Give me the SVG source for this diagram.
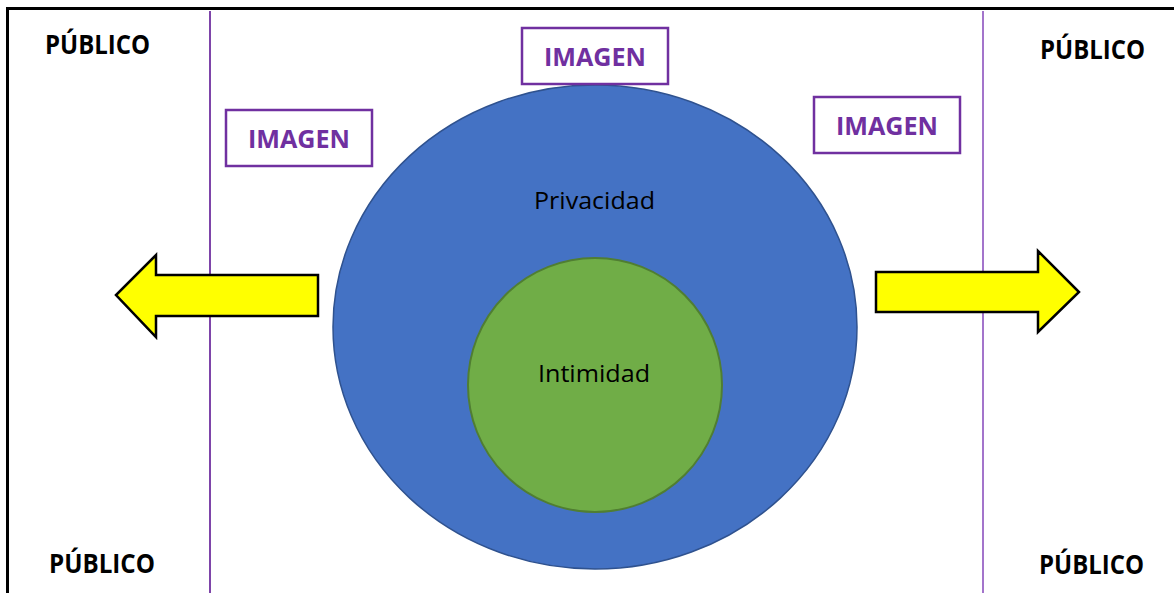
<svg xmlns="http://www.w3.org/2000/svg" width="1174" height="593" viewBox="0 0 1174 593">
  <style>
    .pub { font-family: "Open Sans", "Liberation Sans", sans-serif; font-weight: bold; font-size: 26px; fill: #000; }
    .img-box { fill: #fff; stroke: #7030A0; stroke-width: 2.5; }
    .img-txt { font-family: "Open Sans", "Liberation Sans", sans-serif; font-weight: bold; font-size: 25px; fill: #7030A0; }
    .lbl { font-family: "Open Sans", "Liberation Sans", sans-serif; font-size: 24px; fill: #000; }
    .arrow { fill: #FFFF00; stroke: #000; stroke-width: 2.5; stroke-linejoin: miter; }
  </style>

  <rect width="1174" height="593" fill="#fff"/>

  <!-- frame -->
  <g id="frame">
    <line x1="7" y1="8.5" x2="1174" y2="8.5" stroke="#000" stroke-width="3"/>
    <line x1="7.5" y1="7" x2="7.5" y2="593" stroke="#000" stroke-width="3"/>
    <line x1="210" y1="11" x2="210" y2="593" stroke="#7030A0" stroke-width="1.8"/>
    <line x1="983" y1="11" x2="983" y2="593" stroke="#9965C6" stroke-width="1.8"/>
  </g>

  <!-- corner labels -->
  <g id="publico-tl"><text class="pub" x="45" y="54" textLength="105" lengthAdjust="spacingAndGlyphs">PÚBLICO</text></g>
  <g id="publico-tr"><text class="pub" x="1040" y="59" textLength="105" lengthAdjust="spacingAndGlyphs">PÚBLICO</text></g>
  <g id="publico-bl"><text class="pub" x="49" y="573" textLength="106" lengthAdjust="spacingAndGlyphs">PÚBLICO</text></g>
  <g id="publico-br"><text class="pub" x="1039" y="574" textLength="105" lengthAdjust="spacingAndGlyphs">PÚBLICO</text></g>

  <!-- nested circles -->
  <g id="privacidad">
    <ellipse cx="595" cy="327" rx="262" ry="242" fill="#4472C4" stroke="#2F528F" stroke-width="1.5"/>
    <text class="lbl" x="534" y="209" textLength="121" lengthAdjust="spacingAndGlyphs">Privacidad</text>
  </g>
  <g id="intimidad">
    <circle cx="595" cy="385" r="127" fill="#70AD47" stroke="#507E32" stroke-width="2"/>
    <text class="lbl" x="538" y="382" textLength="112" lengthAdjust="spacingAndGlyphs">Intimidad</text>
  </g>

  <!-- image boxes -->
  <g id="imagen-top">
    <rect class="img-box" x="522" y="28" width="146" height="56"/>
    <text class="img-txt" x="544" y="66" textLength="102" lengthAdjust="spacingAndGlyphs">IMAGEN</text>
  </g>
  <g id="imagen-left">
    <rect class="img-box" x="226" y="110" width="146" height="56"/>
    <text class="img-txt" x="248" y="148" textLength="102" lengthAdjust="spacingAndGlyphs">IMAGEN</text>
  </g>
  <g id="imagen-right">
    <rect class="img-box" x="814" y="97" width="146" height="56"/>
    <text class="img-txt" x="836" y="135" textLength="102" lengthAdjust="spacingAndGlyphs">IMAGEN</text>
  </g>

  <!-- outward arrows -->
  <g id="connectors">
    <polygon class="arrow" points="318,275 156,275 156,255 116,295 156,337 156,316 318,316"/>
    <polygon class="arrow" points="876,272 1038,272 1038,251 1079,292 1038,332 1038,312 876,312"/>
  </g>
</svg>
